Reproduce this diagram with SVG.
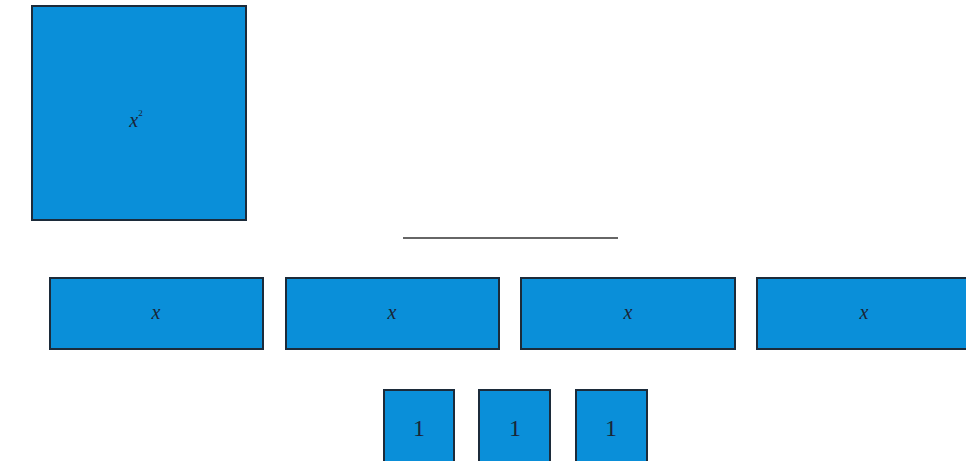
<svg xmlns="http://www.w3.org/2000/svg" width="966" height="461" viewBox="0 0 966 461">
<style>
.tile{fill:#0a8fd9;stroke:#1c2b3a;stroke-width:2}
.lbl{font-family:"Liberation Serif",serif;font-size:20px;fill:#1a2535;text-anchor:middle}
.it{font-style:italic}
.one{font-size:24px}
</style>
<rect width="966" height="461" fill="#fff"/>
<g id="x2"><rect class="tile" x="32" y="6" width="214" height="214"/><text class="lbl it" x="136" y="127" font-size="21">x<tspan font-size="9" dy="-11" font-style="normal">2</tspan></text></g>
<g id="connectors"><line x1="403" y1="238" x2="618" y2="238" stroke="#333" stroke-width="1.5"/></g>
<g id="x-1"><rect class="tile" x="50" y="278" width="213" height="71"/><text class="lbl it" x="156" y="319">x</text></g>
<g id="x-2"><rect class="tile" x="286" y="278" width="213" height="71"/><text class="lbl it" x="392" y="319">x</text></g>
<g id="x-3"><rect class="tile" x="521" y="278" width="214" height="71"/><text class="lbl it" x="628" y="319">x</text></g>
<g id="x-4"><rect class="tile" x="757" y="278" width="214" height="71"/><text class="lbl it" x="864" y="319">x</text></g>
<g id="one-1"><rect class="tile" x="384" y="390" width="70" height="76"/><text class="lbl one" x="419" y="436">1</text></g>
<g id="one-2"><rect class="tile" x="479" y="390" width="71" height="76"/><text class="lbl one" x="515" y="436">1</text></g>
<g id="one-3"><rect class="tile" x="576" y="390" width="71" height="76"/><text class="lbl one" x="611" y="436">1</text></g>
</svg>
